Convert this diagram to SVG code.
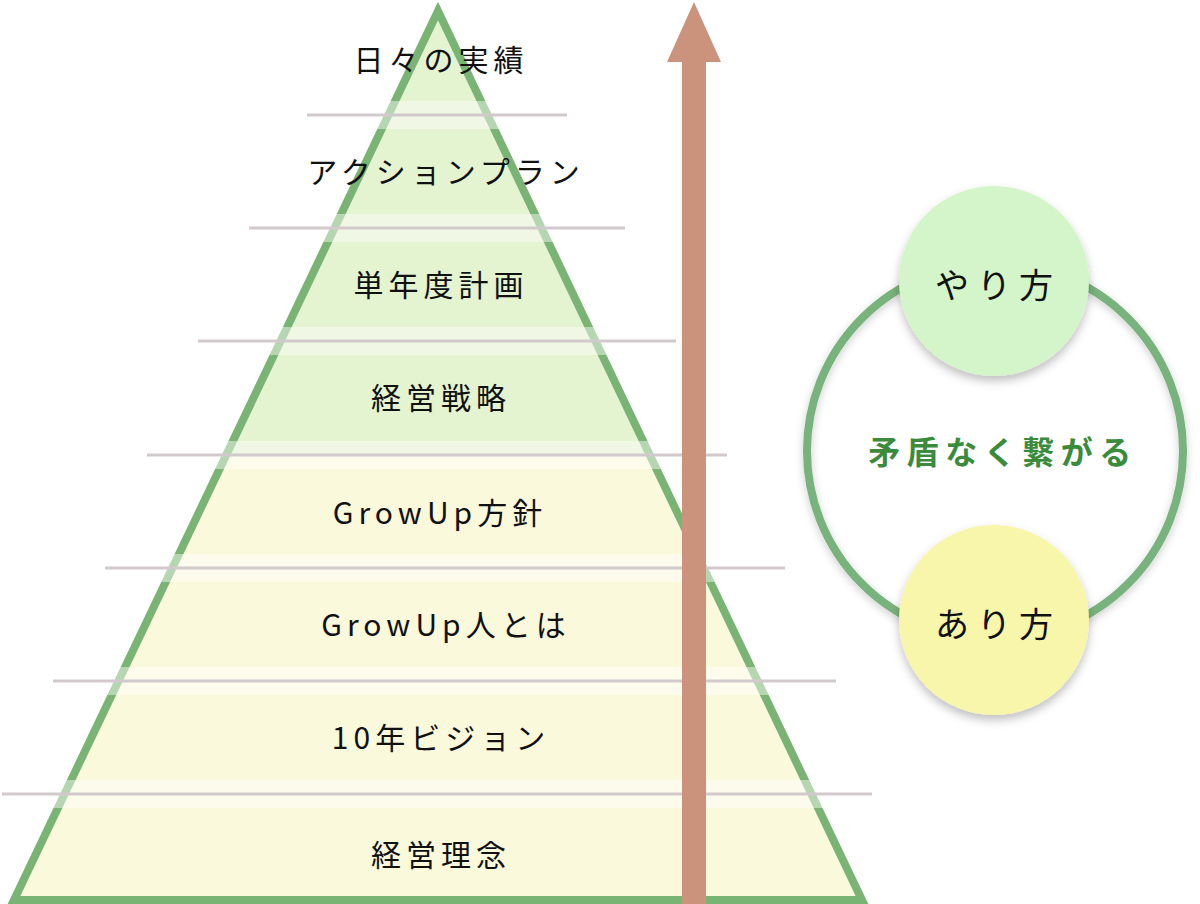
<svg xmlns="http://www.w3.org/2000/svg" width="1200" height="904" viewBox="0 0 1200 904">
  <style>
    .lbl { font-family: "Noto Sans CJK JP", "Noto Sans", sans-serif; font-size: 30px; fill: #111; text-anchor: middle; dominant-baseline: central; letter-spacing: 5px; }
    .clbl { font-family: "Noto Sans CJK JP", "Noto Sans", sans-serif; font-size: 34px; fill: #111; text-anchor: middle; dominant-baseline: central; letter-spacing: 8px; }
    .ctr { font-family: "Noto Sans CJK JP", "Noto Sans", sans-serif; font-size: 32px; font-weight: bold; fill: #3b8b3c; text-anchor: middle; dominant-baseline: central; letter-spacing: 6.5px; }
    .sep { stroke: #d2c9cc; stroke-width: 3; }
    .stripe { fill: #ffffff; opacity: 0.45; }
    .bandG { fill: #e4f3d0; }
    .bandY { fill: #fbf9dc; }
  </style>
  <defs>
    <filter id="sh" x="-20%" y="-20%" width="140%" height="150%">
      <feDropShadow dx="0" dy="5" stdDeviation="5" flood-color="#000" flood-opacity="0.25"/>
    </filter>
    <filter id="sh2" x="-10%" y="-10%" width="120%" height="120%">
      <feDropShadow dx="0" dy="3" stdDeviation="4" flood-color="#000" flood-opacity="0.2"/>
    </filter>
    <clipPath id="tri">
      <polygon points="438,11 14,900 862,900"/>
    </clipPath>
  </defs>

  <g id="pyramid">
    <g clip-path="url(#tri)">
      <rect class="bandG" x="0" y="0" width="900" height="455"/>
      <rect class="bandY" x="0" y="455" width="900" height="449"/>
    </g>
    <polygon points="438,11 14,900 862,900" fill="none" stroke="#7ab474" stroke-width="8" stroke-linejoin="miter"/>
    <g id="stripes">
      <rect class="stripe" x="307" y="101" width="260" height="28"/>
      <rect class="stripe" x="249" y="214" width="376" height="28"/>
      <rect class="stripe" x="198" y="327" width="478" height="28"/>
      <rect class="stripe" x="147" y="441" width="580" height="28"/>
      <rect class="stripe" x="105" y="554" width="680" height="28"/>
      <rect class="stripe" x="53" y="667" width="783" height="28"/>
      <rect class="stripe" x="2" y="780" width="870" height="28"/>
    </g>
    <g id="separators">
      <line class="sep" x1="307" y1="115" x2="567" y2="115"/>
      <line class="sep" x1="249" y1="228" x2="625" y2="228"/>
      <line class="sep" x1="198" y1="341" x2="676" y2="341"/>
      <line class="sep" x1="147" y1="455" x2="727" y2="455"/>
      <line class="sep" x1="105" y1="568" x2="785" y2="568"/>
      <line class="sep" x1="53" y1="681" x2="836" y2="681"/>
      <line class="sep" x1="2" y1="794" x2="872" y2="794"/>
    </g>
  </g>

  <g id="level-1"><text class="lbl" x="441" y="58">日々の実績</text></g>
  <g id="level-2"><text class="lbl" x="446" y="170">アクションプラン</text></g>
  <g id="level-3"><text class="lbl" x="441" y="283">単年度計画</text></g>
  <g id="level-4"><text class="lbl" x="441" y="396">経営戦略</text></g>
  <g id="level-5"><text class="lbl" x="440" y="511">GrowUp方針</text></g>
  <g id="level-6"><text class="lbl" x="446" y="623">GrowUp人とは</text></g>
  <g id="level-7"><text class="lbl" x="441" y="736">10年ビジョン</text></g>
  <g id="level-8"><text class="lbl" x="441" y="853">経営理念</text></g>

  <g id="connectors">
    <polygon points="682,904 682,62 667,62 694,2 721,62 706,62 706,904" fill="#cb937c"/>
  </g>

  <g id="loop">
    <circle cx="995" cy="451" r="188" fill="none" stroke="#78b27b" stroke-width="8" filter="url(#sh2)"/>
    <text class="ctr" x="1003" y="450">矛盾なく繋がる</text>
  </g>
  <g id="yarikata">
    <circle cx="994" cy="281" r="95" fill="#d3f5c9" filter="url(#sh)"/>
    <text class="clbl" x="998" y="283">やり方</text>
  </g>
  <g id="arikata">
    <circle cx="994" cy="620" r="95" fill="#f8f6ab" filter="url(#sh)"/>
    <text class="clbl" x="998" y="622">あり方</text>
  </g>
</svg>
